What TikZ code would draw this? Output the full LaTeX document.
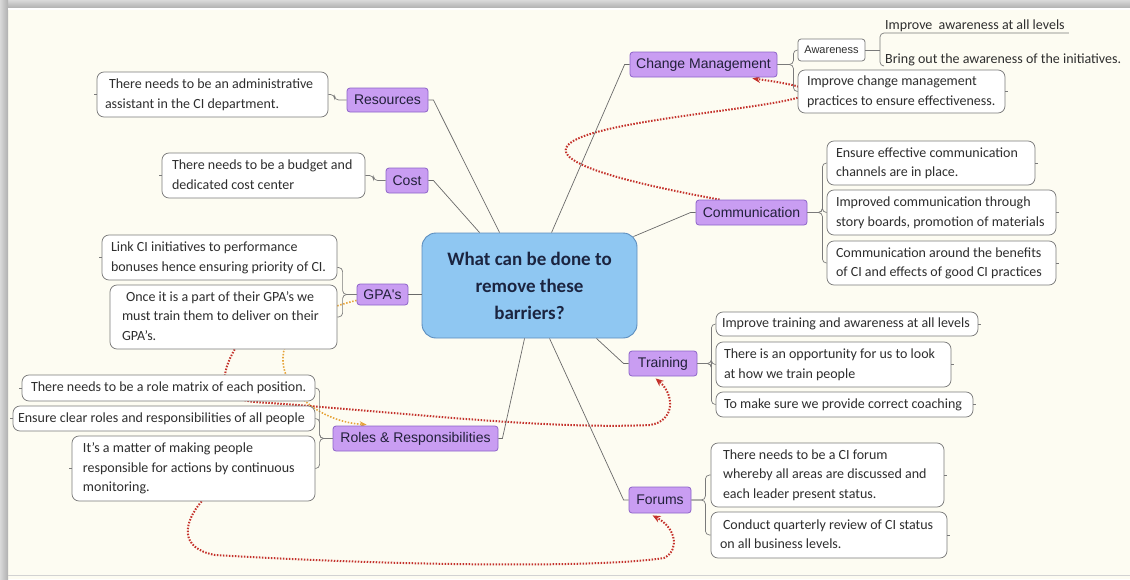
\documentclass[tikz,border=0pt]{standalone}
\usepackage{fontspec}
\setmainfont{Carlito}
\newfontfamily\arialfont{Liberation Sans}
\usetikzlibrary{calc,arrows.meta}
\pgfdeclarelayer{bg}
\pgfsetlayers{bg,main}

\definecolor{paper}{HTML}{FDFCF2}
\definecolor{topicfill}{HTML}{C99DF2}
\definecolor{topicline}{HTML}{8D64C8}
\definecolor{topicink}{HTML}{22203A}
\definecolor{hubfill}{HTML}{8FC7F2}
\definecolor{hubline}{HTML}{5C8DBE}
\definecolor{hubink}{HTML}{1B2440}
\definecolor{leafline}{HTML}{7A7A7A}
\definecolor{leafink}{HTML}{2E2E2E}
\definecolor{stemgray}{HTML}{6A6A6A}
\definecolor{relredc}{HTML}{C4312B}
\definecolor{relorc}{HTML}{E6A43A}

% box from corner (x1,y1) to (x2,y2); optional argument = left padding of the text
\newcommand\leafnode[7][8]{%
  \pgfmathsetmacro\mmW{#5-#3}\pgfmathsetmacro\mmH{#6-#4}%
  \pgfmathsetmacro\mmX{(#3+#5)/2}\pgfmathsetmacro\mmY{(#4+#6)/2}%
  \pgfmathsetmacro\mmT{#5-#3-4}\pgfmathsetmacro\mmL{#1-2}%
  \node[leaf, minimum width=\mmW pt, minimum height=\mmH pt] (#2) at (\mmX,\mmY)
    {\makebox[\mmT pt][l]{\hspace*{\mmL pt}\begin{tabular}{@{}l@{}}#7\end{tabular}}};}
\newcommand\topicnode[6]{%
  \pgfmathsetmacro\mmW{#4-#2}\pgfmathsetmacro\mmH{#5-#3}%
  \pgfmathsetmacro\mmX{(#2+#4)/2}\pgfmathsetmacro\mmY{(#3+#5)/2}%
  \node[topic, minimum width=\mmW pt, minimum height=\mmH pt] (#1) at (\mmX,\mmY) {#6};}

\begin{document}
\begin{tikzpicture}[x=1pt,y=-1pt,
  leaf/.style={draw=leafline, line width=0.75pt, fill=white, rounded corners=7pt,
    inner xsep=2pt, inner ysep=0pt, text=leafink,
    font=\fontsize{14}{19.5}\selectfont},
  looseitem/.style={inner sep=0pt, text=leafink, font=\fontsize{14}{19.5}\selectfont},
  topic/.style={draw=topicline, line width=0.8pt, fill=topicfill, rounded corners=3pt,
    inner sep=0pt, align=center, text=topicink,
    font=\arialfont\fontsize{14}{16}\selectfont},
  hub/.style={draw=hubline, line width=0.9pt, fill=hubfill, rounded corners=14pt,
    inner sep=0pt, align=center, text=hubink,
    font=\bfseries\fontsize{19}{27}\selectfont,
    minimum width=215pt, minimum height=105pt},
  stemline/.style={draw=stemgray, line width=0.7pt},
  twig/.style={draw=leafline, line width=0.7pt, rounded corners=4pt},
  leafstub/.style={draw=leafline, line width=0.7pt},
  relred/.style={draw=relredc, line width=2pt, dash pattern=on 1.5pt off 1.5pt,
    -{Stealth[length=8pt,width=7pt]}},
  relorange/.style={draw=relorc, line width=1.6pt, dash pattern=on 1.5pt off 1.6pt,
    -{Stealth[length=7pt,width=6pt]}},
]
\useasboundingbox (0,0) rectangle (1130,579);

% page and frame
\begin{pgfonlayer}{bg}
\fill[paper] (0,0) rectangle (1130,579);
\shade[top color=gray!30, bottom color=gray!62] (0,0) rectangle (1130,8);
\shade[left color=gray!30, right color=gray!62] (0,0) rectangle (8,579);
\draw[white, line width=1.5pt] (8,9) -- (1130,9);
\draw[gray!35, line width=0.8pt] (8,575.5) -- (1130,575.5);
\end{pgfonlayer}

% central question
\node[hub] (hub) at (529.5,285.5) {What can be done to\\remove these\\barriers?};

% main topics
\topicnode{chg}{630}{52}{777}{77}{Change Management}
\topicnode{res}{347}{88}{428}{112}{Resources}
\topicnode{cost}{386}{168}{428}{193}{Cost}
\topicnode{gpa}{357}{284}{408}{305}{GPA's}
\topicnode{roles}{333}{426}{498}{451}{Roles \& Responsibilities}
\topicnode{comm}{696}{200}{807}{225}{Communication}
\topicnode{train}{629}{351}{697}{376}{Training}
\topicnode{forums}{629}{487}{691}{513}{Forums}

% subtopics
\node[leaf, font=\arialfont\fontsize{11}{13}\selectfont,
  minimum width=67pt, minimum height=22pt, rounded corners=3pt] (aware) at (831.5,50) {Awareness};
\node[looseitem, anchor=base west] (impaw) at (885,29) {Improve\ \ awareness at all levels};
\node[looseitem, anchor=base west] (bringout) at (885,63) {Bring out the awareness of the initiatives.};

\leafnode[9]{chgpractice}{798}{70}{1005}{113}{Improve change management\\practices to ensure effectiveness.}
\leafnode[8]{admin}{97}{72}{328}{117}{\hspace*{4pt}There needs to be an administrative\\assistant in the CI department.}
\leafnode[10]{budget}{162}{153}{365}{198}{There needs to be a budget and\\dedicated cost center}
\leafnode[9]{link}{102}{235}{337}{280}{Link CI initiatives to performance\\bonuses hence ensuring priority of CI.}
\leafnode[12]{once}{110}{285}{337}{349}{\hspace*{4pt}Once it is a part of their GPA’s we\\must train them to deliver on their\\GPA’s.}
\leafnode[9]{matrix}{22}{375}{315}{401}{There needs to be a role matrix of each position.}
\leafnode[5]{clear}{13}{406}{315}{431}{Ensure clear roles and responsibilities of all people}
\leafnode[11]{matter}{72}{436}{315}{501}{It’s a matter of making people\\responsible for actions by continuous\\monitoring.}
\leafnode[9]{comm1}{827}{141}{1035}{185}{Ensure effective communication\\channels are in place.}
\leafnode[9]{comm2}{827}{190}{1056}{235}{Improved communication through\\story boards, promotion of materials}
\leafnode[9]{comm3}{827}{241}{1056}{285}{Communication around the benefits\\of CI and effects of good CI practices}
\leafnode[6]{tr1}{716}{312}{978}{336}{Improve training and awareness at all levels}
\leafnode[8]{tr2}{716}{342}{951}{387}{There is an opportunity for us to look\\at how we train people}
\leafnode[8]{tr3}{716}{392}{973}{417}{To make sure we provide correct coaching}
\leafnode[12]{fo1}{711}{443}{944}{507}{There needs to be a CI forum\\whereby all areas are discussed and\\each leader present status.}
\leafnode[9]{fo2}{711}{512}{947}{558}{\hspace*{3pt}Conduct quarterly review of CI status\\on all business levels.}

% stems from the central question to the main topics
\draw[stemline] ($(hub.north west)+(78,0)$) -- ($(res.east)+(5,0)$) -- (res.east);
\draw[stemline] ($(hub.north west)+(58,0)$) -- ($(cost.east)+(5,0)$) -- (cost.east);
\draw[stemline] ($(hub.north west)+(130,0)$) -- ($(chg.west)+(-5,0)$) -- (chg.west);
\draw[stemline] ($(hub.north east)+(-4,4)$) -- ($(comm.west)+(-5,0)$) -- (comm.west);
\draw[stemline] (gpa.east) -- (gpa.east -| hub.west);
\draw[stemline] ($(hub.south east)+(-41,0)$) -- ($(train.west)+(-5,0)$) -- (train.west);
\draw[stemline] ($(hub.south west)+(128,0)$) -- ($(forums.west)+(-5,0)$) -- (forums.west);
\draw[stemline] ($(hub.south west)+(103,0)$) -- ($(roles.east)+(4,0)$) -- (roles.east);

% brackets from topics to their subtopics
\draw[twig] (res.west) -- ++(-12,0) |- (admin.east);
\draw[twig] (cost.west) -- ++(-12,0) |- (budget.east);
\foreach \nm/\dy in {link/10, once/0}
  \draw[twig] (gpa.west) -- ++(-14,0) |- ($(\nm.east)+(0,\dy)$);
\foreach \nm in {matrix,clear,matter}
  \draw[twig] (roles.west) -- ++(-13,0) |- (\nm.east);
\foreach \nm in {aware,chgpractice}
  \draw[twig] (chg.east) -- ++(16,0) |- (\nm.west);
\foreach \nm in {comm1,comm2,comm3}
  \draw[twig] (comm.east) -- ++(15,0) |- (\nm.west);
\foreach \nm in {tr1,tr2,tr3}
  \draw[twig] (train.east) -- ++(14,0) |- (\nm.west);
\foreach \nm in {fo1,fo2}
  \draw[twig] (forums.east) -- ++(14,0) |- (\nm.west);
\draw[twig] (aware.east) -- ++(15,0);
\draw[twig] ($(impaw.base east)+(4,4)$) -- ($(impaw.base west)+(-5,4)$) |- ($(bringout.base west)+(-1,3)$);

% small stubs on the outer side of the boxes
\foreach \nm in {admin,budget,link,matrix,clear,matter}
  \draw[leafstub] (\nm.west) -- ++(-3,0);
\foreach \nm in {chgpractice,comm1,comm2,comm3,tr1,tr2,tr3,fo1,fo2}
  \draw[leafstub] (\nm.east) -- ++(3,0);

% relationship lines
\begin{pgfonlayer}{bg}
\draw[relred] ($(comm.north west)+(24,0)$) .. controls (260,115) and (1000,112) .. ($(chg.south east)+(-25,1)$);
\draw[relred] ($(once.south west)+(125,0)$) .. controls (222,372) and (215,398) .. (255,402)
  .. controls (380,410) and (540,430) .. (650,425)
  .. controls (675,421) and (675,395) .. ($(train.south west)+(27,2)$);
\draw[relred] ($(matter.south west)+(130,0)$) .. controls (184,522) and (178,548) .. (215,555)
  .. controls (400,566) and (600,568) .. (664,558)
  .. controls (680,550) and (676,528) .. ($(forums.south west)+(24,2)$);
\draw[relorange] ($(gpa.south west)+(0,-5)$) .. controls (230,330) and (290,420) .. ($(roles.north west)+(34,-1)$);
\end{pgfonlayer}
\end{tikzpicture}
\end{document}
